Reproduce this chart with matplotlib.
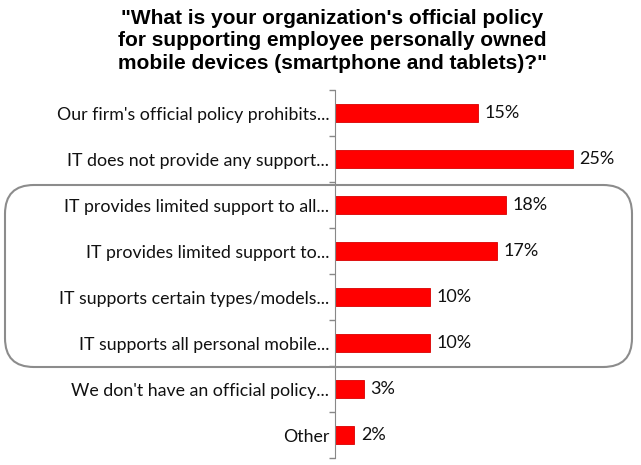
import numpy as np
import matplotlib.pyplot as plt
from matplotlib.patches import FancyBboxPatch

categories = [
    "Our firm's official policy prohibits...",
    "IT does not provide any support...",
    "IT provides limited support to all...",
    "IT provides limited support to...",
    "IT supports certain types/models...",
    "IT supports all personal mobile...",
    "We don't have an official policy...",
    "Other",
]
values = [15, 25, 18, 17, 10, 10, 3, 2]

W, H = 641, 465
fig = plt.figure(figsize=(W / 100, H / 100), dpi=100)
ax = fig.add_axes([335 / W, 7 / H, 285 / W, 368 / H])

y = np.arange(len(categories))
ax.barh(y, values, height=0.4, color="#ff0000", edgecolor="#d80000", linewidth=0.6)
ax.set_ylim(len(categories) - 0.5, -0.5)
ax.set_xlim(0, 30)

for yi, v in zip(y, values):
    ax.annotate(f"{v}%", (v, yi), xytext=(5, 0), textcoords="offset points",
                va="center", ha="left", fontsize=13, family="Lato", color="#111111")

ax.set_yticks(y)
ax.set_yticklabels(categories, fontsize=12.8, family="Lato", color="#111111")
ax.tick_params(axis="y", which="major", length=0, pad=4)
ax.set_yticks(np.arange(-0.5, len(categories)), minor=True)
ax.tick_params(axis="y", which="minor", length=4, color="#888888", width=1)
ax.set_xticks([])
for s in ["top", "right", "bottom"]:
    ax.spines[s].set_visible(False)
ax.spines["left"].set_color("#888888")

fig.text(332 / W, 1 - 41 / H,
         "\"What is your organization's official policy\n"
         "for supporting employee personally owned\n"
         "mobile devices (smartphone and tablets)?\"",
         ha="center", va="center", fontsize=15, fontweight="bold",
         family="Liberation Sans", linespacing=1.22)

box = FancyBboxPatch((5 / W, (H - 367) / H), 627 / W, 182 / H,
                     boxstyle="round,pad=0,rounding_size=0.045",
                     transform=fig.transFigure, fill=False,
                     edgecolor="#8c8c8c", linewidth=1.5, mutation_aspect=W / H)
fig.patches.append(box)

fig.savefig("out.png", dpi=100)
